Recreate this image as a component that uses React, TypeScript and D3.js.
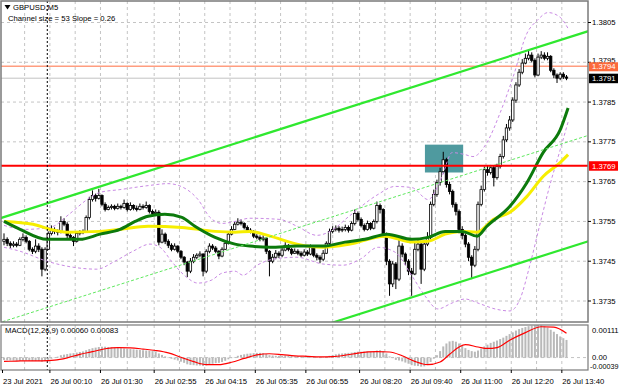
import React from "react";
import * as d3 from "d3";

// ---------- DATA ----------
const symbolTitle = "GBPUSD,M5";
const channelText = "Channel size = 53 Slope = 0.26";
const macdText = "MACD(12,26,9) 0.00060 0.00083";

const firstOpen = 1.375;
const closes = [
  1.37505, 1.37495, 1.3749, 1.37493, 1.3749, 1.37505, 1.3751, 1.375, 1.3748, 1.37475,
  1.37488, 1.3748, 1.3743, 1.3748, 1.3752, 1.3753, 1.37525, 1.37523, 1.3755, 1.37543,
  1.37515, 1.3751, 1.375, 1.3752, 1.37523, 1.37525, 1.3756, 1.37605, 1.37615, 1.37608,
  1.37615, 1.37593, 1.3758, 1.37585, 1.37588, 1.37583, 1.37588, 1.37585, 1.37595, 1.3758,
  1.3759, 1.37583, 1.3758, 1.37588, 1.37585, 1.3759, 1.37575, 1.3757, 1.37573, 1.37498,
  1.37518, 1.375, 1.3749, 1.3748, 1.37488, 1.37475, 1.3746, 1.37448, 1.37425, 1.3745,
  1.3746, 1.37465, 1.37468, 1.37425, 1.37475, 1.37488, 1.37483, 1.37475, 1.37463, 1.3748,
  1.37495, 1.37518, 1.3753, 1.37543, 1.37548, 1.37545, 1.37535, 1.37528, 1.37525, 1.37513,
  1.3751, 1.37505, 1.37508, 1.37475, 1.3745, 1.3746, 1.3747, 1.37465, 1.37478, 1.3749,
  1.3748, 1.3747, 1.37475, 1.3747, 1.37465, 1.37473, 1.37468, 1.37485, 1.37465, 1.3746,
  1.37455, 1.3747, 1.37495, 1.37525, 1.3753, 1.37533, 1.37528, 1.3753, 1.37535, 1.37528,
  1.37545, 1.3757, 1.37555, 1.3754, 1.3753, 1.37545, 1.37533, 1.3755, 1.3759, 1.3758,
  1.37518, 1.3745, 1.37393, 1.37443, 1.37405, 1.37488, 1.37468, 1.3745, 1.37425, 1.37418,
  1.3748, 1.37493, 1.3743, 1.37493, 1.3751, 1.37593, 1.37618, 1.37648, 1.37675, 1.37705,
  1.37643, 1.37625, 1.37593, 1.37575, 1.3753, 1.37515, 1.37493, 1.3746, 1.3744, 1.3748,
  1.37593, 1.3763, 1.3768, 1.37673, 1.37685, 1.3766, 1.37688, 1.37713, 1.37755, 1.37785,
  1.37805, 1.37855, 1.37893, 1.37925, 1.37948, 1.3796, 1.37968, 1.37955, 1.37918, 1.37963,
  1.37968, 1.3796, 1.37965, 1.3793, 1.37918, 1.3791, 1.3792, 1.37913, 1.3791,
];
const highs = [
  1.3752, 1.3751, 1.375, 1.375, 1.37498, 1.3751, 1.3752, 1.37515, 1.37503, 1.37485,
  1.37505, 1.37495, 1.37485, 1.37485, 1.37525, 1.3754, 1.37535, 1.3753, 1.37563, 1.37558,
  1.37548, 1.3752, 1.37513, 1.37525, 1.37528, 1.3753, 1.37565, 1.37612, 1.37628, 1.3762,
  1.37632, 1.37618, 1.37598, 1.3759, 1.37593, 1.37592, 1.37595, 1.37592, 1.37605, 1.37598,
  1.37598, 1.37593, 1.3759, 1.37595, 1.37593, 1.376, 1.37593, 1.3758, 1.3758, 1.37578,
  1.3753, 1.37522, 1.37505, 1.37495, 1.37495, 1.3749, 1.37478, 1.37463, 1.3745, 1.37458,
  1.37468, 1.3747, 1.37475, 1.3747, 1.3748, 1.37495, 1.37493, 1.37488, 1.37478, 1.37485,
  1.375, 1.37522, 1.37538, 1.3755, 1.37558, 1.37555, 1.37548, 1.3754, 1.37533, 1.37528,
  1.37518, 1.37515, 1.37515, 1.3751, 1.37478, 1.37468, 1.37478, 1.37475, 1.37485, 1.37498,
  1.37493, 1.37483, 1.37482, 1.3748, 1.37475, 1.3748, 1.37478, 1.37492, 1.37488, 1.3747,
  1.37465, 1.37478, 1.375, 1.37532, 1.37538, 1.3754, 1.37538, 1.37537, 1.37542, 1.3754,
  1.3755, 1.3758, 1.37575, 1.3756, 1.37545, 1.37552, 1.37548, 1.37555, 1.376, 1.37595,
  1.37583, 1.37522, 1.37455, 1.3745, 1.37448, 1.37505, 1.37495, 1.37472, 1.37455, 1.37433,
  1.375, 1.37505, 1.37498, 1.375, 1.37523, 1.376, 1.3763, 1.37655, 1.37685, 1.37725,
  1.3771, 1.3765, 1.3763, 1.37598, 1.3758, 1.37538, 1.3752, 1.37498, 1.37465, 1.37488,
  1.376, 1.3764, 1.37688, 1.3769, 1.37692, 1.3769, 1.37695, 1.3772, 1.37765, 1.37795,
  1.37815, 1.37862, 1.379, 1.37933, 1.37958, 1.37972, 1.3798, 1.37975, 1.3796, 1.37972,
  1.37978, 1.37975, 1.37975, 1.37968, 1.37935, 1.37922, 1.37925, 1.37925, 1.37918,
];
const lows = [
  1.3749, 1.37488, 1.37483, 1.37485, 1.37485, 1.37488, 1.375, 1.37495, 1.37475, 1.37468,
  1.3747, 1.37473, 1.37412, 1.37425, 1.37478, 1.37515, 1.37518, 1.37515, 1.3752, 1.37538,
  1.37508, 1.37503, 1.37488, 1.37497, 1.37515, 1.37518, 1.37522, 1.37555, 1.376, 1.376,
  1.37605, 1.37588, 1.37575, 1.37578, 1.3758, 1.37578, 1.3758, 1.3758, 1.37582, 1.37575,
  1.37577, 1.37578, 1.37575, 1.37578, 1.3758, 1.37582, 1.3757, 1.37565, 1.37565, 1.3749,
  1.37495, 1.37493, 1.37483, 1.37475, 1.37477, 1.3747, 1.37455, 1.3744, 1.3741, 1.3742,
  1.37445, 1.37455, 1.3746, 1.37412, 1.3742, 1.3747, 1.37478, 1.3747, 1.37455, 1.3746,
  1.37478, 1.37492, 1.37515, 1.37528, 1.3754, 1.3754, 1.3753, 1.37523, 1.3752, 1.37508,
  1.37505, 1.375, 1.375, 1.37468, 1.37412, 1.37445, 1.37455, 1.37458, 1.3746, 1.37475,
  1.37475, 1.37465, 1.37468, 1.37465, 1.3746, 1.37462, 1.37463, 1.37465, 1.3746, 1.37452,
  1.37445, 1.3745, 1.37468, 1.37492, 1.3752, 1.37525, 1.37522, 1.37523, 1.37525, 1.37522,
  1.37525, 1.3754, 1.3755, 1.37535, 1.37525, 1.37527, 1.37528, 1.3753, 1.37545, 1.3757,
  1.3751, 1.3744, 1.37363, 1.37385, 1.3738, 1.374, 1.3746, 1.3744, 1.37415, 1.37363,
  1.37415, 1.37475, 1.37393, 1.37425, 1.37488, 1.37505, 1.37588, 1.37612, 1.3764, 1.3767,
  1.37635, 1.37618, 1.37585, 1.37565, 1.3752, 1.37505, 1.37485, 1.3745, 1.37405, 1.37435,
  1.37475, 1.37588, 1.37625, 1.37665, 1.37668, 1.37638, 1.37655, 1.37683, 1.37708, 1.3775,
  1.37778, 1.378, 1.37848, 1.37888, 1.3792, 1.37945, 1.37955, 1.3795, 1.37912, 1.37915,
  1.37958, 1.37955, 1.37955, 1.37925, 1.3791, 1.37898, 1.37905, 1.37908, 1.37905,
];

// moving averages and Bollinger bands: [bar index, price]
const maGreen = [
  [0, 1.3755], [5.1, 1.3753], [13.6, 1.37505], [24, 1.37505], [30.4, 1.37518], [36.7, 1.3753],
  [41.5, 1.3755], [45.6, 1.37563], [50.9, 1.37568], [56.3, 1.3756], [60.4, 1.37538], [66.8, 1.3751],
  [73.1, 1.37493], [77.8, 1.37488], [84.2, 1.37485], [92.7, 1.37488], [100.9, 1.37488], [107.9, 1.37498],
  [114.2, 1.37505], [121.2, 1.37518], [129.1, 1.37505], [134.2, 1.3751], [139.6, 1.37525], [144.9, 1.37525],
  [149.7, 1.37513], [152.8, 1.37538], [160.1, 1.37588], [165.5, 1.37648], [170.6, 1.37723], [176, 1.3778],
  [178.5, 1.37835],
];
const maYellow = [
  [0, 1.3755], [9.2, 1.37543], [14.6, 1.3753], [19.9, 1.37523], [30.4, 1.37525], [36.7, 1.3753],
  [45.6, 1.37538], [56.3, 1.37535], [66.8, 1.37525], [73.1, 1.37523], [77.8, 1.37525], [84.2, 1.37513],
  [92.7, 1.37493], [100.9, 1.37485], [109.5, 1.37493], [120.6, 1.37513], [129.1, 1.37498], [134.2, 1.375],
  [139.6, 1.37518], [144.9, 1.37525], [149.7, 1.37523], [154.8, 1.37555], [160.1, 1.37573], [165.5, 1.37613],
  [170.6, 1.37663], [176, 1.37698], [178.5, 1.37718],
];
const bandUpper = [
  [0, 1.3754], [6.6, 1.3753], [14.6, 1.37535], [20.9, 1.3757], [26.3, 1.37605], [30.4, 1.37623],
  [36.7, 1.3763], [45.6, 1.3764], [51.9, 1.37645], [57.3, 1.37633], [61.4, 1.37605], [65.2, 1.3756],
  [69, 1.37545], [73.1, 1.3755], [77.8, 1.37558], [87.3, 1.37555], [92.7, 1.37538], [99, 1.37515],
  [103.2, 1.37525], [109.5, 1.37565], [118.4, 1.37618], [123.7, 1.37638], [129.1, 1.37635], [134.2, 1.37605],
  [138.6, 1.37663], [141.8, 1.37723], [145.9, 1.37718], [148.4, 1.37713], [152.8, 1.37748], [157, 1.37823],
  [161.1, 1.37913], [165.5, 1.38023], [168.7, 1.38055], [172.2, 1.38075], [176, 1.38063], [178.5, 1.38035],
];
const bandLower = [
  [0, 1.37485], [5.1, 1.37475], [13.6, 1.3745], [21.8, 1.37435], [29.4, 1.3743], [35.1, 1.3745],
  [40.8, 1.37475], [46.2, 1.37493], [49.4, 1.37485], [53.2, 1.37448], [57.3, 1.37413], [61.4, 1.37395],
  [65.8, 1.37403], [69, 1.3742], [73.1, 1.37425], [75.6, 1.37415], [80.1, 1.3744], [85.1, 1.37455],
  [92.7, 1.3746], [100.9, 1.37443], [107.3, 1.3744], [112.7, 1.37455], [118.4, 1.37485], [123.7, 1.37473],
  [129.1, 1.37413], [133.2, 1.37363], [137.3, 1.3733], [141.8, 1.37345], [145.9, 1.37355], [150.6, 1.37343],
  [155.4, 1.3733], [160.1, 1.37325], [163.3, 1.37355], [166.5, 1.37443], [169.6, 1.37543], [172.8, 1.37643],
  [176, 1.3773], [178.5, 1.378],
];

// regression channel lines: [bar index, price]
const channelUpper = [[-2, 1.37556], [186, 1.38031]];
const channelMiddle = [[-2, 1.37294], [186, 1.37769]];
const channelLower = [[-2, 1.37028], [186, 1.37503]];

const askLevel = 1.3794;
const bidLevel = 1.3791;
const resistanceLevel = 1.3769;
const zone = { from: 133.2, to: 145.3, top: 1.37743, bottom: 1.37673 };

// MACD in units of 0.00001
const MACD_UNIT = 0.00001;
const macdHist = [
  -8, -9, -10, -10, -11, -11, -10, -10, -11, -12, -12, -12, -14, -12, -8,
  -4, 0, 3, 8, 10, 12, 14, 15, 17, 19, 21, 25, 29, 32, 34, 36,
  37, 37, 36, 35, 34, 33, 32, 31, 30, 29,
  28, 27, 26, 25, 24, 23, 22, 21,
  14, 9, 4, 0, -4, -7, -10,
  -14, -18, -23, -25, -26, -27, -27, -29, -27,
  -24, -21, -19, -18, -15, -11, -6, -2,
  2, 6, 9, 11, 13, 14, 15, 16, 16, 15, 12, 8,
  7, 6, 6, 6, 7, 6, 5, 4, 4, 3, 2, 2, 3, 2, 1, 0, 1, 3, 6,
  9, 11, 13, 14, 15, 16, 17, 19, 20, 20, 20, 21, 20, 21, 24, 25, 22,
  14, 4, -2, -8, -10, -13, -17, -21, -26, -28, -29, -31, -30,
  -25, -15, -4, 8, 22, 38, 48, 55,
  57, 54, 48, 40, 32, 26, 22, 20, 24,
  30, 38, 44, 50, 54, 58, 63, 68, 74, 80, 86, 92, 97, 101, 104, 107, 109, 110, 111, 110,
  107, 102, 95, 88, 80, 72, 66, 60,
];
const macdSignal = [
  [0, -13], [4, -12], [8, -11], [12, -11], [16, -9], [20, -1], [24, 11], [28, 20], [32, 30], [36, 34],
  [40, 33], [44, 29], [48, 24], [52, 16], [56, 1], [60, -14], [64, -24], [68, -24], [72, -16], [76, -3],
  [80, 9], [84, 13], [88, 10], [92, 6], [96, 4], [100, 2], [104, 3], [108, 8], [112, 15], [118, 20],
  [122, 19], [126, 6], [130, -13], [134, -24], [138, -15], [141, 11], [144, 36], [146, 44], [150, 36],
  [153, 31], [156, 34], [160, 59], [165, 85], [170, 105], [174, 104], [178, 83],
];
const macdLabels = ["0.00111", "0.00", "-0.00039"];

const priceTicks = [1.3735, 1.3745, 1.3755, 1.3765, 1.3775, 1.3785, 1.3795, 1.3805];
const timeTickBars = [0, 15, 31, 48, 64, 80, 96, 113, 129, 145, 161, 177];
const timeTickLabels = [
  "23 Jul 2021", "26 Jul 00:10", "26 Jul 01:30", "26 Jul 02:55", "26 Jul 04:15", "26 Jul 05:35",
  "26 Jul 06:55", "26 Jul 08:20", "26 Jul 09:40", "26 Jul 11:00", "26 Jul 12:20", "26 Jul 13:40",
];
const gridBars = [7, 15, 23, 31, 39.5, 48, 56, 64, 72, 80, 88, 96, 104.5, 113, 121, 129, 137, 145, 153, 161, 169, 177];
const daySeparatorBar = 13.7;

// ---------- LAYOUT ----------
const W = 620;
const H = 388;
const PX0 = 1;
const PX1 = 588;
const MY0 = 1;
const MY1 = 322;
const DY0 = 325;
const DY1 = 370;
const FONT = "'Liberation Sans', Arial, sans-serif";
const FS = 7.7;

export default function App() {
  const x = d3.scaleLinear().domain([0, closes.length - 1]).range([4, 566.5]);
  const y = d3.scaleLinear().domain([1.3735, 1.3805]).range([301, 22.5]);
  const ym = d3.scaleLinear().domain([-0.00039, 0.00111]).range([369, 325]);

  const opens = closes.map((c, i) => (i === 0 ? firstOpen : closes[i - 1]));

  const curve = d3
    .line<number[]>()
    .x((d) => x(d[0]))
    .y((d) => y(d[1]))
    .curve(d3.curveMonotoneX);
  const straight = d3
    .line<number[]>()
    .x((d) => x(d[0]))
    .y((d) => y(d[1]));
  const sigLine = d3
    .line<number[]>()
    .x((d) => x(d[0]))
    .y((d) => ym(d[1] * MACD_UNIT))
    .curve(d3.curveMonotoneX);

  const bodyW = 2.4;
  const gridStyle = { stroke: "#c4c4c4", strokeWidth: 1, strokeDasharray: "3,3" };

  return (
    <svg
      width={W}
      height={H}
      viewBox={`0 0 ${W} ${H}`}
      style={{ position: "fixed", left: 0, top: 0, background: "#fff", fontFamily: FONT }}
    >
      <defs>
        <clipPath id="mainClip">
          <rect x={PX0} y={MY0} width={PX1 - PX0} height={MY1 - MY0} />
        </clipPath>
        <clipPath id="macdClip">
          <rect x={PX0} y={DY0} width={PX1 - PX0} height={DY1 - DY0} />
        </clipPath>
      </defs>
      <rect x={0} y={0} width={W} height={H} fill="#fff" />

      {/* grids */}
      <g>
        {priceTicks.map((p) => (
          <line key={"hg" + p} x1={PX0} x2={PX1} y1={y(p)} y2={y(p)} {...gridStyle} />
        ))}
        {gridBars.map((b) => (
          <g key={"vg" + b}>
            <line x1={x(b) - 1.5} x2={x(b) - 1.5} y1={MY0} y2={MY1} {...gridStyle} />
            <line x1={x(b) - 1.5} x2={x(b) - 1.5} y1={DY0} y2={DY1} {...gridStyle} />
          </g>
        ))}
        <line x1={PX0} x2={PX1} y1={ym(0)} y2={ym(0)} {...gridStyle} />
      </g>

      <g clipPath="url(#mainClip)">
        {/* zone rectangle */}
        <rect
          x={x(zone.from)}
          y={y(zone.top)}
          width={x(zone.to) - x(zone.from)}
          height={y(zone.bottom) - y(zone.top)}
          fill="#4f9a9f"
        />
        {/* levels */}
        <line x1={PX0} x2={PX1} y1={y(askLevel)} y2={y(askLevel)} stroke="#ff9d80" strokeWidth={1.5} />
        <line x1={PX0} x2={PX1} y1={y(bidLevel)} y2={y(bidLevel)} stroke="#c2c2c2" strokeWidth={1} />

        {/* candles */}
        {closes.map((c, i) => {
          const o = opens[i];
          const cx = x(i);
          const top = y(Math.max(o, c));
          const bot = y(Math.min(o, c));
          const bull = c >= o;
          const h = Math.max(bot - top, 0.8);
          return (
            <g key={"c" + i}>
              <line x1={cx} x2={cx} y1={y(highs[i])} y2={y(lows[i])} stroke="#000" strokeWidth={1} />
              <rect
                x={cx - bodyW / 2}
                y={top}
                width={bodyW}
                height={h}
                fill={bull ? "#fff" : "#000"}
                stroke="#000"
                strokeWidth={0.8}
              />
            </g>
          );
        })}

        {/* Bollinger bands */}
        <path d={curve(bandUpper) || ""} fill="none" stroke="#c98ae4" strokeWidth={1} strokeDasharray="3,2.5" />
        <path d={curve(bandLower) || ""} fill="none" stroke="#c98ae4" strokeWidth={1} strokeDasharray="3,2.5" />

        {/* moving averages */}
        <path d={curve(maYellow) || ""} fill="none" stroke="#f6ee00" strokeWidth={3} />
        <path d={curve(maGreen) || ""} fill="none" stroke="#0c7a0c" strokeWidth={3} />

        {/* channel */}
        <path d={straight(channelUpper) || ""} stroke="#2fe82f" strokeWidth={2.2} fill="none" />
        <path d={straight(channelMiddle) || ""} stroke="#5fe85f" strokeWidth={1} strokeDasharray="3,2" fill="none" />
        <path d={straight(channelLower) || ""} stroke="#2fe82f" strokeWidth={2.2} fill="none" />

        <line x1={PX0} x2={PX1} y1={y(resistanceLevel)} y2={y(resistanceLevel)} stroke="#ff0000" strokeWidth={2} />
      </g>

      {/* day separator */}
      <line x1={x(daySeparatorBar)} x2={x(daySeparatorBar)} y1={MY0} y2={MY1} stroke="#000" strokeWidth={1} strokeDasharray="2,2" />
      <line x1={x(daySeparatorBar)} x2={x(daySeparatorBar)} y1={DY0} y2={DY1} stroke="#000" strokeWidth={1} strokeDasharray="2,2" />

      {/* MACD */}
      <g clipPath="url(#macdClip)">
        {macdHist.map((v, i) => {
          const y0 = ym(0);
          const y1 = ym(v * MACD_UNIT);
          return (
            <rect
              key={"m" + i}
              x={x(i) - 1}
              y={Math.min(y0, y1)}
              width={2}
              height={Math.max(Math.abs(y1 - y0), 0.5)}
              fill="#b9b9b9"
            />
          );
        })}
        <path d={sigLine(macdSignal) || ""} fill="none" stroke="#ff0000" strokeWidth={1.2} />
      </g>

      {/* frames */}
      <rect x={PX0} y={MY0} width={PX1 - PX0} height={MY1 - MY0} fill="none" stroke="#7a7a7a" strokeWidth={1.5} />
      <rect x={PX0} y={DY0} width={PX1 - PX0} height={DY1 - DY0} fill="none" stroke="#7a7a7a" strokeWidth={1.2} />

      {/* price axis */}
      <g fontSize={FS} fill="#000">
        {priceTicks.map((p) => (
          <g key={"pt" + p}>
            <line x1={PX1} x2={PX1 + 3} y1={y(p)} y2={y(p)} stroke="#000" strokeWidth={1} />
            <text x={592} y={p === 1.3795 ? y(p) - 1.5 : y(p)} dominantBaseline="central">
              {p.toFixed(4)}
            </text>
          </g>
        ))}
      </g>
      {/* level labels */}
      <g fontSize={FS}>
        <rect x={589} y={y(askLevel) - 4} width={29} height={9} fill="#fb6a3c" />
        <text x={592} y={y(askLevel) + 0.5} dominantBaseline="central" fill="#fff">
          {askLevel.toFixed(4)}
        </text>
        <rect x={589} y={y(bidLevel) - 4.5} width={29} height={9.5} fill="#000" />
        <text x={592} y={y(bidLevel) + 0.3} dominantBaseline="central" fill="#fff">
          {bidLevel.toFixed(4)}
        </text>
        <rect x={589} y={y(resistanceLevel) - 4.5} width={29} height={9.5} fill="#ff0000" />
        <text x={592} y={y(resistanceLevel) + 0.3} dominantBaseline="central" fill="#fff">
          {resistanceLevel.toFixed(4)}
        </text>
      </g>

      {/* MACD axis labels */}
      <g fontSize={FS} fill="#000">
        <text x={592} y={330} dominantBaseline="central">{macdLabels[0]}</text>
        <text x={592} y={357.5} dominantBaseline="central">{macdLabels[1]}</text>
        <text x={590} y={366} fontSize={7.2} dominantBaseline="central">{macdLabels[2]}</text>
      </g>

      {/* time axis */}
      <g fontSize={FS} fill="#000">
        {timeTickBars.map((b, k) => (
          <g key={"tt" + b}>
            <line x1={x(b) - 1.5} x2={x(b) - 1.5} y1={DY1} y2={DY1 + 3} stroke="#000" strokeWidth={1} />
            <text x={x(b) - 1} y={384}>
              {timeTickLabels[k]}
            </text>
          </g>
        ))}
      </g>

      {/* titles */}
      <path d="M4.5,5 L10.5,5 L7.5,9.5 Z" fill="#000" />
      <text x={13} y={10} fontSize={FS} fill="#000">{symbolTitle}</text>
      <text x={8} y={20.5} fontSize={FS} fill="#000">{channelText}</text>
      <text x={5} y={333} fontSize={FS} fill="#000">{macdText}</text>
    </svg>
  );
}
